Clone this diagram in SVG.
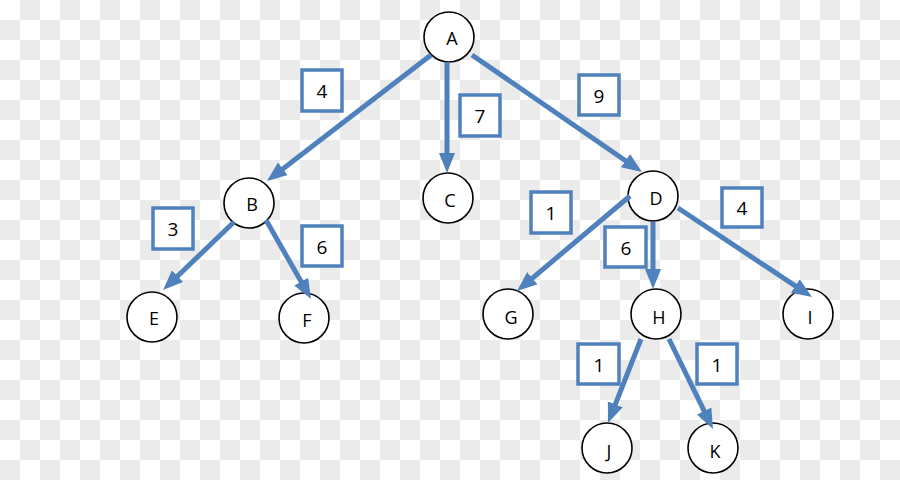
<svg xmlns="http://www.w3.org/2000/svg" width="900" height="480" viewBox="0 0 900 480">
<defs>
<pattern id="chk" width="40" height="40" patternUnits="userSpaceOnUse">
<rect width="40" height="40" fill="#ffffff"/>
<rect x="20" y="0" width="20" height="20" fill="#ebebeb"/>
<rect x="0" y="20" width="20" height="20" fill="#ebebeb"/>
</pattern>
<marker id="arr" markerUnits="strokeWidth" markerWidth="4" markerHeight="3.2" refX="1.6" refY="1.6" orient="auto">
<path d="M0,0 L4,1.6 L0,3.2 z" fill="#4f81bd"/>
</marker>
</defs>
<style>
.node circle{fill:#ffffff;stroke:#000000;stroke-width:1.6}
.node text{font-family:"Open Sans","Liberation Sans",sans-serif;font-size:18px;fill:#000000;text-anchor:middle;dominant-baseline:central}
.conn line{stroke:#4f81bd;stroke-width:5;marker-end:url(#arr)}
.lbl rect{fill:#ffffff;stroke:#4f81bd;stroke-width:3.5}
.lbl text{font-family:"Open Sans","Liberation Sans",sans-serif;font-size:19px;fill:#000000;text-anchor:middle;dominant-baseline:central}
</style>
<rect width="900" height="480" fill="url(#chk)"/>
<g id="A" class="node"><circle cx="449" cy="37" r="25"/><text x="452" y="38">A</text></g>
<g id="B" class="node"><circle cx="249" cy="203" r="25"/><text x="252" y="204">B</text></g>
<g id="C" class="node"><circle cx="448" cy="198" r="25"/><text x="450" y="200">C</text></g>
<g id="D" class="node"><circle cx="653" cy="196" r="25"/><text x="656" y="198">D</text></g>
<g id="E" class="node"><circle cx="152" cy="317" r="25"/><text x="154" y="318">E</text></g>
<g id="F" class="node"><circle cx="304" cy="318" r="25"/><text x="307" y="320">F</text></g>
<g id="G" class="node"><circle cx="508" cy="314" r="25"/><text x="511" y="317">G</text></g>
<g id="H" class="node"><circle cx="656" cy="314" r="25"/><text x="659" y="317">H</text></g>
<g id="I" class="node"><circle cx="808" cy="314" r="25"/><text x="810" y="317">I</text></g>
<g id="J" class="node"><circle cx="607" cy="448" r="25"/><text x="609" y="451">J</text></g>
<g id="K" class="node"><circle cx="713" cy="448" r="25"/><text x="715" y="451">K</text></g>
<g id="connectors" class="conn">
<line x1="431" y1="55" x2="276.5" y2="173.7"/>
<line x1="447" y1="62" x2="447" y2="161"/>
<line x1="472" y1="55" x2="632.1" y2="165.2"/>
<line x1="234" y1="222" x2="171.7" y2="281.7"/>
<line x1="266" y1="220" x2="305.1" y2="288.6"/>
<line x1="630" y1="196" x2="526.2" y2="283.3"/>
<line x1="653" y1="222" x2="653" y2="277"/>
<line x1="678" y1="208" x2="802" y2="290.4"/>
<line x1="641" y1="339" x2="612.4" y2="411.8"/>
<line x1="669" y1="339" x2="707.7" y2="418.2"/>
</g>
<g id="labels" class="lbl">
<g><rect x="302" y="70" width="40" height="41"/><text x="322" y="91">4</text></g>
<g><rect x="460" y="95" width="40" height="41"/><text x="480" y="116">7</text></g>
<g><rect x="579" y="75" width="40" height="40"/><text x="599" y="96">9</text></g>
<g><rect x="153" y="208" width="40" height="41"/><text x="173" y="229">3</text></g>
<g><rect x="302" y="226" width="40" height="40"/><text x="322" y="247">6</text></g>
<g><rect x="531" y="192" width="40" height="41"/><text x="551" y="213">1</text></g>
<g><rect x="605" y="227" width="41" height="40"/><text x="626" y="248">6</text></g>
<g><rect x="722" y="188" width="40" height="39"/><text x="742" y="208">4</text></g>
<g><rect x="578" y="344" width="41" height="40"/><text x="599" y="365">1</text></g>
<g><rect x="697" y="344" width="40" height="40"/><text x="717" y="365">1</text></g>
</g>
</svg>
